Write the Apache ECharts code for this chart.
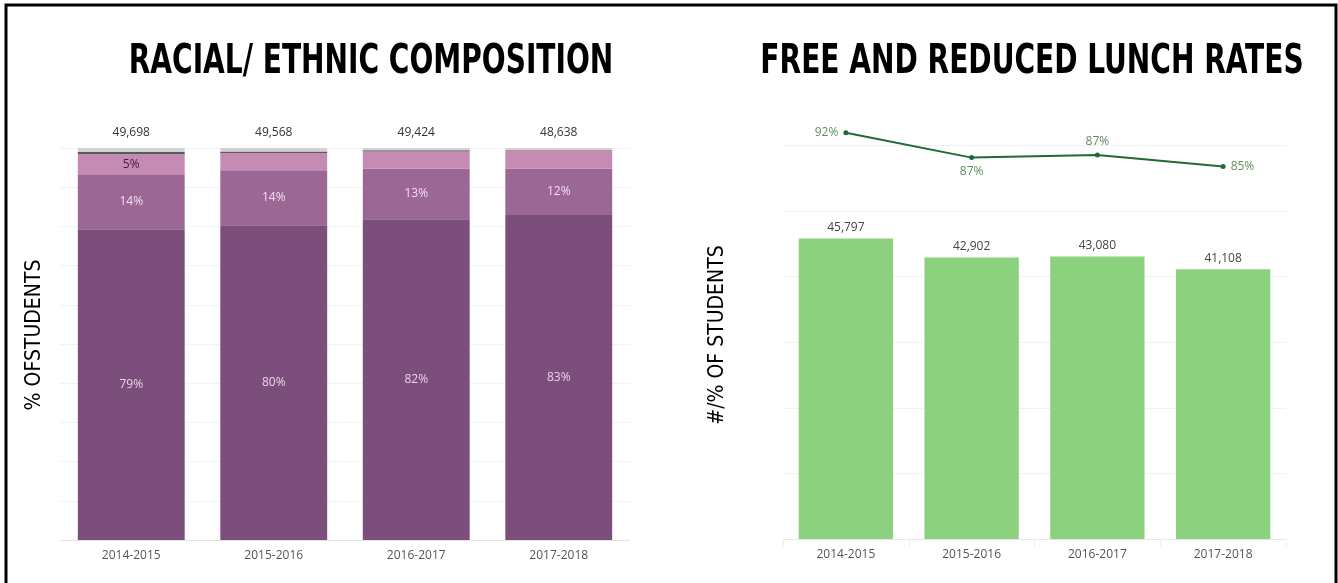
<!DOCTYPE html>
<html><head><meta charset="utf-8">
<script src="https://cdn.jsdelivr.net/npm/echarts@6/dist/echarts.min.js"></script>
<style>html,body{margin:0;padding:0;background:#fff}#c{width:1338px;height:583px}</style>
</head><body><div id="c"></div>
<script>
// ---- data ----
const years = ['2014-2015', '2015-2016', '2016-2017', '2017-2018'];
const totals = [49698, 49568, 49424, 48638];
const pctMain = [79.3, 80.3, 81.8, 82.9];
const pctSecond = [14.0, 14.0, 12.9, 11.9];
const pctThird = [5.1, 4.4, 4.4, 4.6];
const pctFourth = [0.6, 0.4, 0.3, 0.1];
const pctOther = [1.0, 0.9, 0.6, 0.5];
const thirdLabelShown = [true, false, false, false];
const frlCounts = [45797, 42902, 43080, 41108];
const frlRates = [92.15, 86.55, 87.16, 84.52];
const rateLabelPos = ['left', 'bottom', 'top', 'right'];

const FONT = 'Open Sans';
const TITLE_FONT = '"DejaVu Sans Condensed", sans-serif';
const fmtInt = v => v.toLocaleString('en-US');
const pct = v => Math.round(v) + '%';

const chart = echarts.init(document.getElementById('c'), null, {renderer: 'canvas'});

const leftBar = (name, data, color, label) => ({
  name, type: 'bar', stack: 'race', xAxisIndex: 0, yAxisIndex: 0,
  barWidth: '75%', data, itemStyle: {color}, label, silent: true,
  emphasis: {disabled: true}
});

chart.setOption({
  animation: false,
  backgroundColor: '#fff',
  textStyle: {fontFamily: FONT},
  grid: [
    {left: 60, right: 1338 - 630, top: 148, bottom: 583 - 540},
    {left: 783, right: 1338 - 1286, top: 211, bottom: 583 - 539},
    {left: 783, right: 1338 - 1286, top: 145, height: 66}
  ],
  xAxis: [
    {type: 'category', gridIndex: 0, data: years,
     axisLine: {lineStyle: {color: '#e3e3e3'}}, axisTick: {show: false},
     axisLabel: {color: '#555', fontSize: 12, margin: 10, fontFamily: FONT}},
    {type: 'category', gridIndex: 1, data: years,
     axisLine: {lineStyle: {color: '#e6e6e6'}},
     axisTick: {show: true, length: 8, lineStyle: {color: '#efefef'}},
     axisLabel: {color: '#555', fontSize: 12, margin: 10, fontFamily: FONT}},
    {type: 'category', gridIndex: 2, data: years, position: 'top',
     axisLine: {lineStyle: {color: '#eeeeee'}}, axisTick: {show: false},
     axisLabel: {show: false}}
  ],
  yAxis: [
    {type: 'value', gridIndex: 0, min: 0, max: 100, interval: 10,
     axisLabel: {show: false}, axisLine: {show: false}, axisTick: {show: false},
     splitLine: {lineStyle: {color: '#f3f3f3'}}},
    {type: 'value', gridIndex: 1, min: 0, max: 50000, interval: 10000,
     axisLabel: {show: false}, axisLine: {show: false}, axisTick: {show: false},
     splitLine: {lineStyle: {color: '#f1f1f1'}}},
    {type: 'value', gridIndex: 2, min: 74.5, max: 89.4,
     axisLabel: {show: false}, axisLine: {show: false}, axisTick: {show: false},
     splitLine: {show: false}}
  ],
  series: [
    leftBar('Group 1', pctMain, '#7b4e7b',
      {show: true, position: 'inside', color: '#e9d3e6', fontSize: 12,
       fontFamily: FONT, formatter: p => pct(p.value)}),
    leftBar('Group 2', pctSecond, '#9b6896',
      {show: true, position: 'inside', color: '#f3def0', fontSize: 12,
       fontFamily: FONT, formatter: p => pct(p.value)}),
    leftBar('Group 3', pctThird, '#c58bb2',
      {show: true, position: 'inside', color: '#3e2440', fontSize: 12,
       fontFamily: FONT, formatter: p => thirdLabelShown[p.dataIndex] ? pct(p.value) : ''}),
    leftBar('Group 4', pctFourth, '#5b5b5f', {show: false}),
    leftBar('Other', pctOther, '#d2d2d2',
      {show: true, position: 'top', distance: 9, color: '#333', fontSize: 12,
       fontFamily: FONT, formatter: p => fmtInt(totals[p.dataIndex])}),
    {name: 'FRL students', type: 'bar', xAxisIndex: 1, yAxisIndex: 1,
     barWidth: '75%', data: frlCounts, itemStyle: {color: '#8cd17d'}, silent: true,
     label: {show: true, position: 'top', distance: 5, color: '#444', fontSize: 12,
             fontFamily: FONT, formatter: p => fmtInt(p.value)}},
    {name: 'FRL rate', type: 'line', xAxisIndex: 2, yAxisIndex: 2, clip: false,
     data: frlRates.map((v, i) => ({value: v, label: {position: rateLabelPos[i]}})),
     lineStyle: {color: '#1f6a35', width: 2}, itemStyle: {color: '#1f6a35'},
     symbol: 'circle', symbolSize: 5, silent: true,
     label: {show: true, color: '#5f8f5f', fontSize: 12, fontFamily: FONT, distance: 5,
             formatter: p => pct(p.value)}}
  ],
  graphic: [
    {type: 'polyline', silent: true,
     shape: {points: [[6, 583], [6, 5], [1336, 5], [1336, 583]]},
     style: {stroke: '#000', lineWidth: 3, fill: null}},
    {type: 'text', x: 371, y: 63, scaleX: 0.78, silent: true,
     style: {text: 'RACIAL/ ETHNIC COMPOSITION', font: 'bold 40px ' + TITLE_FONT,
             fill: '#000', align: 'center', verticalAlign: 'middle'}},
    {type: 'text', x: 1032, y: 63, scaleX: 0.78, silent: true,
     style: {text: 'FREE AND REDUCED LUNCH RATES', font: 'bold 40px ' + TITLE_FONT,
             fill: '#000', align: 'center', verticalAlign: 'middle'}},
    {type: 'text', x: 35, y: 335, rotation: Math.PI / 2, silent: true,
     style: {text: '% OFSTUDENTS', font: '21px ' + TITLE_FONT,
             fill: '#000', align: 'center', verticalAlign: 'middle'}},
    {type: 'text', x: 718, y: 335, rotation: Math.PI / 2, silent: true,
     style: {text: '#/% OF STUDENTS', font: '21px ' + TITLE_FONT,
             fill: '#000', align: 'center', verticalAlign: 'middle'}}
  ]
});
</script></body></html>
